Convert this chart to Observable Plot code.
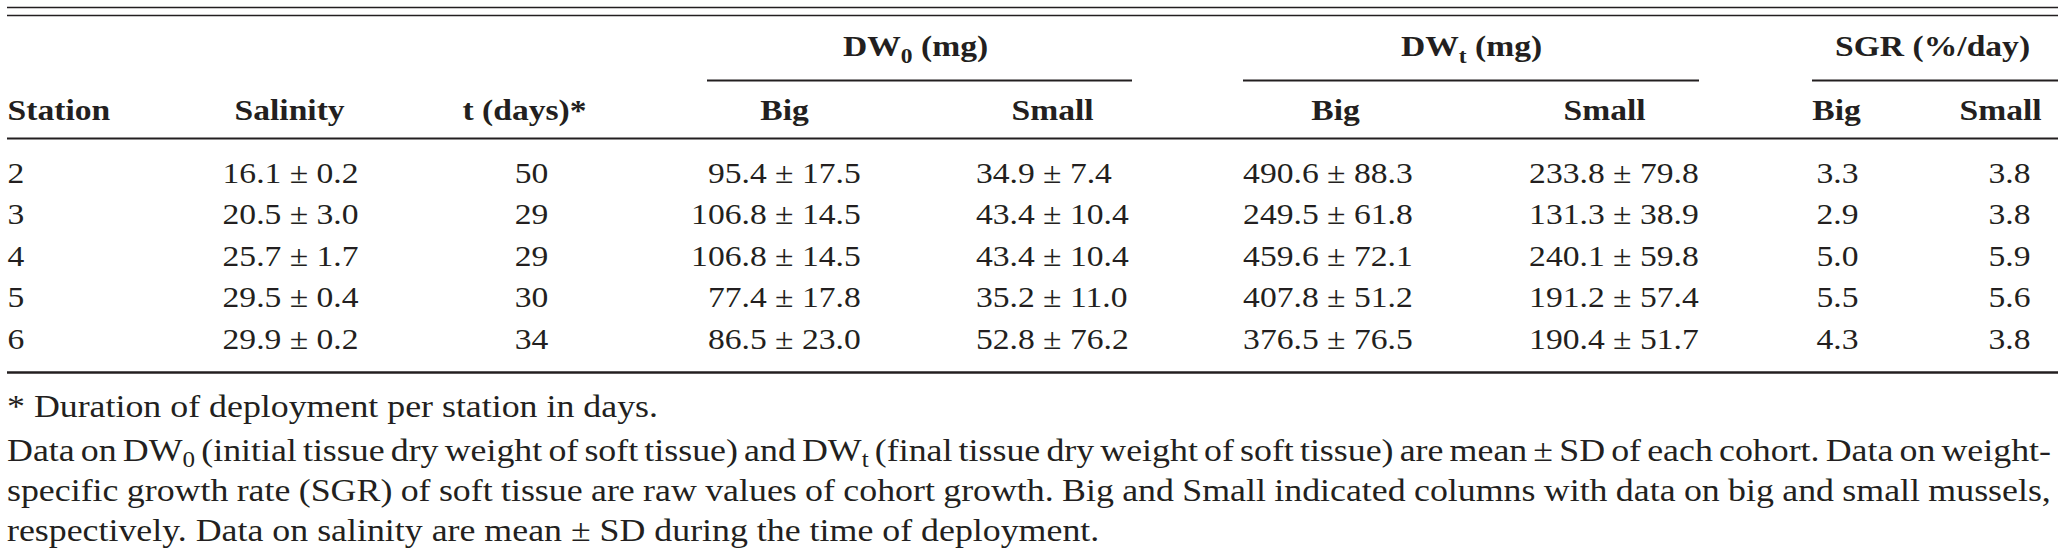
<!DOCTYPE html>
<html>
<head>
<meta charset="utf-8">
<script src="https://cdn.jsdelivr.net/npm/d3@7"></script>
<script src="https://cdn.jsdelivr.net/npm/@observablehq/plot@0.6"></script>
<style>
  html, body { margin: 0; padding: 0; background: #fff; }
  #wrap { width: 2058px; height: 558px; overflow: hidden; position: relative; }
  .cap { font-family: "Liberation Serif", serif; color: #231f20; }
  .cap .ln { height: 40px; line-height: 40px; white-space: nowrap; }
  .cap .ln span.inner { display: inline-block; white-space: nowrap; }
  .cap sub { font-size: 0.7em; line-height: 0; vertical-align: -0.25em; }
</style>
</head>
<body>
<div id="wrap"></div>
<script>
// ---------------- data ----------------
const stations = ["2", "3", "4", "5", "6"];
const salinityMean = [16.1, 20.5, 25.7, 29.5, 29.9];
const salinitySD = [0.2, 3.0, 1.7, 0.4, 0.2];
const days = [50, 29, 29, 30, 34];
const dw0BigMean = [95.4, 106.8, 106.8, 77.4, 86.5];
const dw0BigSD = [17.5, 14.5, 14.5, 17.8, 23.0];
const dw0SmallMean = [34.9, 43.4, 43.4, 35.2, 52.8];
const dw0SmallSD = [7.4, 10.4, 10.4, 11.0, 76.2];
const dwtBigMean = [490.6, 249.5, 459.6, 407.8, 376.5];
const dwtBigSD = [88.3, 61.8, 72.1, 51.2, 76.5];
const dwtSmallMean = [233.8, 131.3, 240.1, 191.2, 190.4];
const dwtSmallSD = [79.8, 38.9, 59.8, 57.4, 51.7];
const sgrBig = [3.3, 2.9, 5.0, 5.5, 4.3];
const sgrSmall = [3.8, 3.8, 5.9, 5.6, 3.8];

const groupLabels = ["DW0 (mg)", "DWt (mg)", "SGR (%/day)"];
const columnLabels = ["Station", "Salinity", "t (days)*", "Big", "Small", "Big", "Small", "Big", "Small"];
const footnotes = [
  "* Duration of deployment per station in days.",
  "Data on DW<sub>0</sub> (initial tissue dry weight of soft tissue) and DW<sub>t</sub> (final tissue dry weight of soft tissue) are mean ± SD of each cohort. Data on weight-",
  "specific growth rate (SGR) of soft tissue are raw values of cohort growth. Big and Small indicated columns with data on big and small mussels,",
  "respectively. Data on salinity are mean ± SD during the time of deployment."
];

// ---------------- layout (reference pixel units) ----------------
const REF_W = 2058;
const K = 1.12;            // horizontal stretch of the typeset table
const FS = 30;             // body font size
const H = 386;             // svg height
const ink = "#231f20";
const EM = FS * K;         // one em in reference units
const layout = {
  colX: [7, 290, 531, 784, 1052, 1336, 1622, 1837, 2009],
  colAnchor: ["start", "middle", "middle", "pm", "pm", "pm", "pm", "middle", "middle"],
  headX: [7, 289, 524, 784, 1052, 1335, 1604, 1836, 2000],
  groupX: [915, 1471, 1932],
  groupRule: [[707, 1132], [1243, 1699], [1812, 2058]],
  groupY: 55, groupRuleY: 80,
  headY: 119,
  rowY: [182, 223.5, 265, 306.5, 348],
  rules: [
    {y: 7, x1: 7, x2: 2058, w: 1.7},
    {y: 15, x1: 7, x2: 2058, w: 1.7},
    {y: 138, x1: 7, x2: 2058, w: 2},
    {y: 372, x1: 7, x2: 2058, w: 2.4}
  ],
  capLeft: 7, capRight: 2051, capFS: 32, capJustify: [false, true, true, false]
};

const f1 = v => v.toFixed(1);
const colData = [
  stations.map(s => [s]),
  salinityMean.map((m, i) => [`${f1(m)} ± ${f1(salinitySD[i])}`]),
  days.map(d => [String(d)]),
  dw0BigMean.map((m, i) => [f1(m), `± ${f1(dw0BigSD[i])}`]),
  dw0SmallMean.map((m, i) => [f1(m), `± ${f1(dw0SmallSD[i])}`]),
  dwtBigMean.map((m, i) => [f1(m), `± ${f1(dwtBigSD[i])}`]),
  dwtSmallMean.map((m, i) => [f1(m), `± ${f1(dwtSmallSD[i])}`]),
  sgrBig.map(v => [f1(v)]),
  sgrSmall.map(v => [f1(v)])
];

const cellsStart = [], cellsMiddle = [], cellsEnd = [];
const halfPM = 0.282 * EM, space = 0.25 * EM;
colData.forEach((col, c) => {
  col.forEach((parts, r) => {
    const y = layout.rowY[r];
    const a = layout.colAnchor[c];
    const x = layout.colX[c];
    if (a === "start") cellsStart.push({x, y, t: parts[0]});
    else if (a === "middle") cellsMiddle.push({x, y, t: parts[0]});
    else {
      cellsEnd.push({x: x - halfPM - space, y, t: parts[0]});
      cellsStart.push({x: x - halfPM, y, t: parts[1]});
    }
  });
});
const heads = columnLabels.map((t, i) => ({x: layout.headX[i], y: layout.headY, t, a: i === 0 ? "start" : "middle"}));
const groups = groupLabels.map((t, i) => ({x: layout.groupX[i], y: layout.groupY, t}));
const groupRules = layout.groupRule.map(([x1, x2]) => ({x1, x2, y: layout.groupRuleY, w: 1.9}));

const W = REF_W / K;
const txt = (data, anchor, extra = {}) => Plot.text(data, {
  x: "x", y: "y", text: "t", textAnchor: anchor, lineAnchor: "bottom",
  fill: ink, fontSize: FS, ...extra
});

const svg = Plot.plot({
  width: W, height: H,
  margin: 0,
  x: {type: "linear", domain: [0, REF_W], range: [0, W], axis: null},
  y: {type: "linear", domain: [0, H], range: [0, H], axis: null},
  style: {fontFamily: "'Liberation Serif', serif", background: "#fff", color: ink},
  marks: [
    Plot.ruleY(layout.rules.concat(groupRules), {y: "y", x1: "x1", x2: "x2", stroke: ink, strokeWidth: d => d.w}),
    txt(groups, "middle", {fontWeight: "bold"}),
    txt(heads.filter(d => d.a === "start"), "start", {fontWeight: "bold"}),
    txt(heads.filter(d => d.a === "middle"), "middle", {fontWeight: "bold"}),
    txt(cellsStart, "start"),
    txt(cellsMiddle, "middle"),
    txt(cellsEnd, "end")
  ]
});

svg.setAttribute("preserveAspectRatio", "none");
svg.setAttribute("width", REF_W);
svg.style.width = REF_W + "px";
svg.style.height = H + "px";
svg.style.maxWidth = "none";
svg.style.display = "block";

const NS = "http://www.w3.org/2000/svg";
svg.querySelectorAll("text").forEach(t => {
  const m = t.textContent.match(/^DW(0|t)( \(mg\))$/);
  if (!m) return;
  t.textContent = "";
  const a = document.createElementNS(NS, "tspan"); a.textContent = "DW";
  const b = document.createElementNS(NS, "tspan"); b.textContent = m[1];
  b.setAttribute("dy", "7"); b.setAttribute("font-size", FS * 0.7);
  const c = document.createElementNS(NS, "tspan"); c.textContent = m[2];
  c.setAttribute("dy", "-7");
  t.append(a, b, c);
});

const wrap = document.getElementById("wrap");
wrap.appendChild(svg);

// caption (footnotes), typeset with the same horizontal stretch
const cap = document.createElement("div");
cap.className = "cap";
cap.style.fontSize = layout.capFS + "px";
const innerW = (layout.capRight - layout.capLeft) / K;
cap.style.width = innerW + "px";
cap.style.marginLeft = layout.capLeft + "px";
cap.style.transform = `scaleX(${K})`;
cap.style.transformOrigin = "0 0";
const spans = [];
footnotes.forEach((html, i) => {
  const d = document.createElement("div");
  d.className = "ln";
  if (i === 1) d.style.marginTop = "4px";
  const s = document.createElement("span");
  s.className = "inner";
  s.innerHTML = html;
  d.appendChild(s);
  cap.appendChild(d);
  spans.push(s);
});
wrap.appendChild(cap);

// justify lines 2 and 3 by adjusting word spacing
spans.forEach((s, i) => {
  if (!layout.capJustify[i]) return;
  const natural = s.offsetWidth;
  const gaps = (s.textContent.match(/ /g) || []).length;
  if (gaps) s.style.wordSpacing = ((innerW - natural) / gaps) + "px";
});
</script>
</body>
</html>
